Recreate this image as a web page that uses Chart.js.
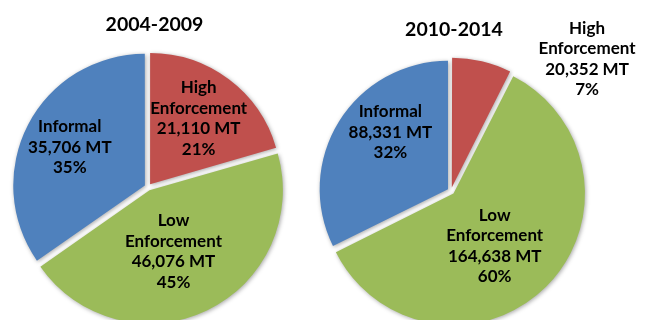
<!DOCTYPE html>
<html>
<head>
<meta charset="utf-8">
<script src="https://cdn.jsdelivr.net/npm/chart.js@4"></script>
<style>
  html, body { margin: 0; padding: 0; background: #fff; overflow: hidden; }
  body { width: 646px; height: 320px; position: relative; }
  canvas { position: absolute; top: 0; }
</style>
</head>
<body>
<canvas id="pieEarly" width="296" height="374" style="left:0"></canvas>
<canvas id="pieLate" width="390" height="382" style="left:256px"></canvas>
<script>
// data (metric tonnes)
const categories = ['High Enforcement', 'Low Enforcement', 'Informal'];
const periods = ['2004-2009', '2010-2014'];
const tonnesEarly = [21110, 46076, 35706];
const tonnesLate = [20352, 164638, 88331];
const sliceColors = ['#C0504D', '#9BBB59', '#4F81BD'];

// soft shadow under the slices, like the excel original
const sliceShadow = {
    id: 'sliceShadow',
    beforeDatasetsDraw(chart) {
        const c = chart.ctx;
        c.save();
        c.shadowColor = 'rgba(0,0,0,0.35)';
        c.shadowBlur = 4;
        c.shadowOffsetX = 1;
        c.shadowOffsetY = 1;
    },
    afterDatasetsDraw(chart) {
        chart.ctx.restore();
    }
};

// slice labels + title
const pieText = {
    id: 'pieText',
    afterDatasetsDraw(chart, args, opts) {
        const ctx = chart.ctx;
        const meta = chart.getDatasetMeta(0);
        const values = chart.data.datasets[0].data;
        const total = values.reduce((a, b) => a + b, 0);
        ctx.save();
        ctx.fillStyle = '#000';
        ctx.textAlign = 'center';
        ctx.textBaseline = 'middle';
        ctx.font = 'bold 17px Lato';
        meta.data.forEach((arc, i) => {
            const p = arc.getProps(['x', 'y', 'startAngle', 'endAngle', 'outerRadius'], true);
            const k = opts.place[i][0];
            const a = (p.startAngle + p.endAngle) / 2 + opts.place[i][1] * Math.PI / 180;
            const cx = p.x + Math.cos(a) * p.outerRadius * k;
            const cy = p.y + Math.sin(a) * p.outerRadius * k;
            const lines = chart.data.labels[i].split(' ').concat([
                values[i].toLocaleString('en-US') + ' MT',
                Math.round(values[i] / total * 100) + '%'
            ]);
            lines.forEach((t, j) => ctx.fillText(t, cx, cy + (j - (lines.length - 1) / 2) * 20.5));
        });
        ctx.font = 'bold 19.5px Lato';
        const c0 = meta.data[0];
        ctx.fillText(opts.title, c0.x + opts.titleDx, c0.y + opts.titleDy);
        ctx.restore();
    }
};

function makePie(id, values, title, radius, place, titleDx, titleDy) {
    return new Chart(document.getElementById(id), {
        type: 'pie',
        data: {
            labels: categories,
            datasets: [{
                data: values,
                backgroundColor: sliceColors,
                borderWidth: 0,
                offset: 14
            }]
        },
        options: {
            responsive: false,
            animation: false,
            radius: radius,
            layout: { padding: 0 },
            plugins: {
                legend: { display: false },
                tooltip: { enabled: false },
                pieText: { title: title, place: place, titleDx: titleDx, titleDy: titleDy }
            }
        },
        plugins: [sliceShadow, pieText]
    });
}

makePie('pieEarly', tonnesEarly, periods[0], 131,
    [[0.65, -0.4], [0.53, 4], [0.67, -0.6]], 6.5, -162);
makePie('pieLate', tonnesLate, periods[1], 128,
    [[1.48, 32.5], [0.55, 6.4], [0.66, 12.3]], 3, -161);
</script>
</body>
</html>
